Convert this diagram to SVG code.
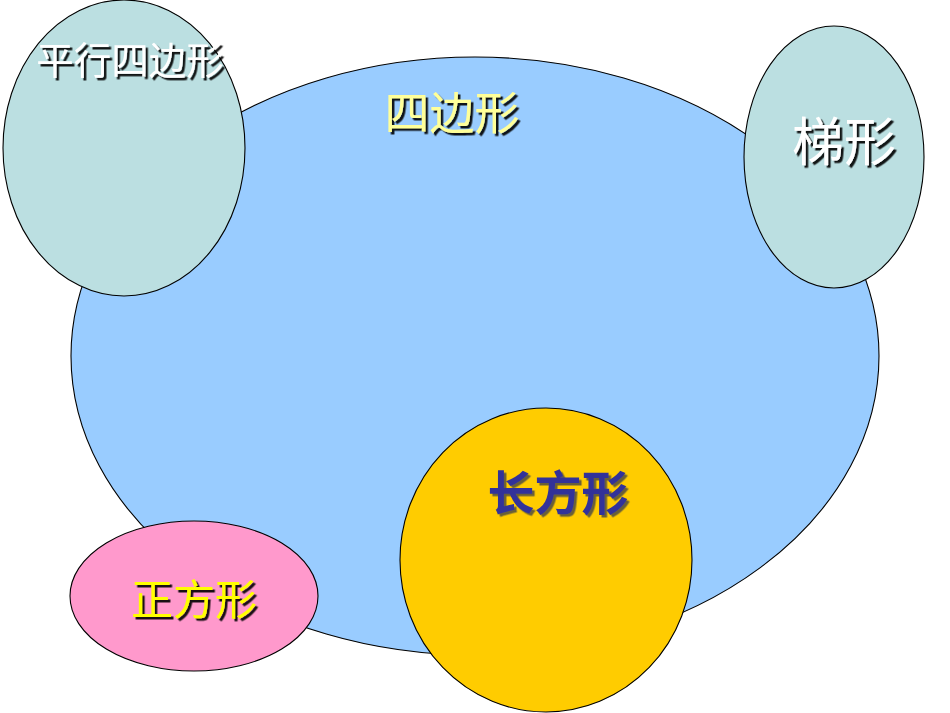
<svg xmlns="http://www.w3.org/2000/svg" width="950" height="713" viewBox="0 0 950 713">
<defs>
<filter id="sh" x="-10%" y="-10%" width="130%" height="140%">
<feDropShadow dx="2.5" dy="2.5" stdDeviation="0.3" flood-color="#000" flood-opacity="0.9"/>
</filter>
<filter id="sh2" x="-10%" y="-10%" width="130%" height="140%">
<feDropShadow dx="2.5" dy="2.5" stdDeviation="0.3" flood-color="#444" flood-opacity="0.8"/>
</filter>
</defs>
<style>
.shape{stroke:#000;stroke-width:1.1}
.lbl{font-family:"Noto Sans CJK SC","Noto Sans",sans-serif;text-anchor:middle}
</style>
<rect width="950" height="713" fill="#fff"/>
<g id="quadrilateral">
<ellipse class="shape" cx="475" cy="356" rx="404" ry="299" fill="#99CCFF"/>
<text class="lbl" x="452" y="130" font-size="45" fill="#FFFF99" filter="url(#sh)">四边形</text>
</g>
<g id="parallelogram">
<ellipse class="shape" cx="124" cy="148" rx="121" ry="148" fill="#BBDFE1"/>
<text class="lbl" x="130" y="74" font-size="37.5" fill="#FFFFFF" filter="url(#sh)">平行四边形</text>
</g>
<g id="trapezoid">
<ellipse class="shape" cx="834" cy="157" rx="90" ry="131" fill="#BBDFE1"/>
<text class="lbl" x="844" y="161" font-size="52" fill="#FFFFFF" filter="url(#sh)">梯形</text>
</g>
<g id="square">
<ellipse class="shape" cx="194" cy="596" rx="124" ry="75" fill="#FF99CC"/>
<text class="lbl" x="194" y="615" font-size="42" fill="#FFFF00" filter="url(#sh)">正方形</text>
</g>
<g id="rectangle">
<ellipse class="shape" cx="546" cy="560" rx="146" ry="152" fill="#FFCC00"/>
<text class="lbl" x="558" y="510" font-size="47" font-weight="bold" fill="#333399" filter="url(#sh2)">长方形</text>
</g>
<g id="connectors"></g>
</svg>
